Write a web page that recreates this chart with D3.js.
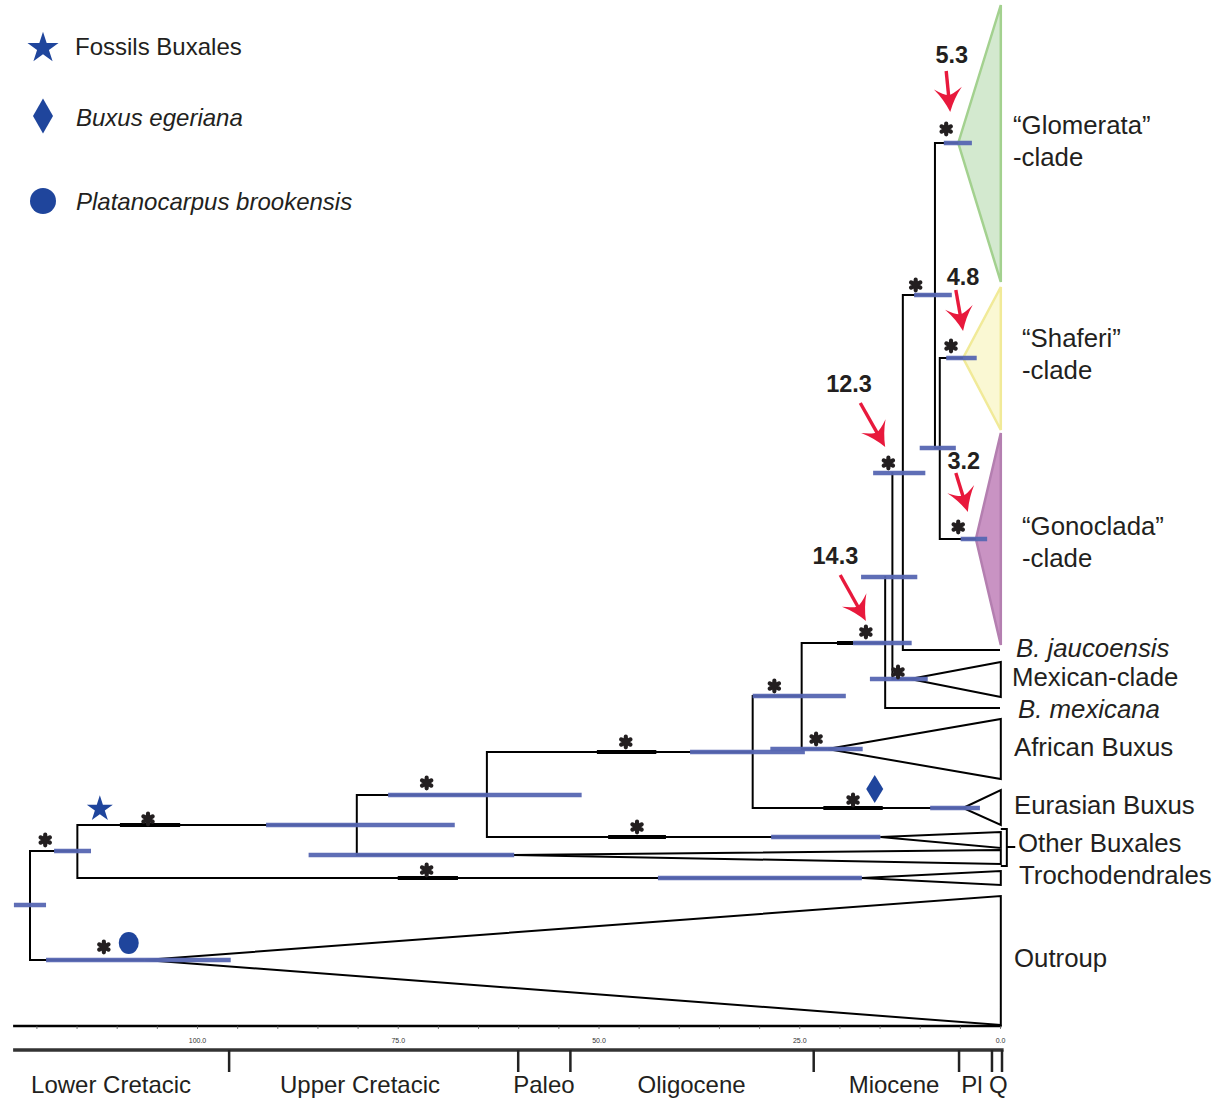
<!DOCTYPE html>
<html>
<head>
<meta charset="utf-8">
<script src="https://cdn.jsdelivr.net/npm/d3@7"></script>
<style>
  body { margin: 0; background: #fff; }
  svg { display: block; font-family: "Liberation Sans", Arial, sans-serif; }
</style>
</head>
<body>
<div id="chart"></div>
<script>
// ---- Data (ages in Ma, y in layout rows) ----

// horizontal branches: [olderAge, youngerAge, y]
const branches = [
    [120.8, 114.9, 851], [120.8, 106.5, 960],
    [114.9, 80.1, 825], [114.9, 17.2, 878],
    [80.1, 63.9, 795], [80.1, 60.6, 855],
    [63.9, 30.8, 752], [63.9, 14.9, 837],
    [30.8, 24.7, 696], [30.8, 4.6, 808],
    [24.7, 14.3, 643], [24.7, 21.5, 749],
    [14.3, 0, 708], [13.4, 11.2, 679],
    [12.1, 0, 650], [12.1, 8.1, 295],
    [8.1, 5.2, 143], [8.1, 7.5, 448],
    [7.5, 4.6, 358], [7.5, 3.0, 539]
];

// vertical connectors: [age, yTop, yBottom]
const connectors = [
    [120.8, 851, 960], [114.9, 825, 878], [80.1, 795, 855],
    [63.9, 752, 837], [30.8, 696, 808], [24.7, 643, 749],
    [14.3, 577, 708], [13.4, 473, 679], [12.1, 295, 650],
    [8.1, 143, 448], [7.5, 358, 539]
];

// thicker black branch pieces
const thickPieces = [
    [109.6, 102.1, 825], [50.2, 42.8, 752], [48.8, 41.6, 837],
    [75.0, 67.5, 878], [22.0, 14.6, 808], [20.3, 18.3, 643]
];

// collapsed clades: apexAge, apexY, topY, bottomY
const cladeNames = ["Glomerata", "Shaferi", "Gonoclada", "Mexican", "African", "Eurasian", "Other1", "Other2", "Trocho", "Outgroup"];
const cladeApexAge = [5.2, 4.6, 3.0, 11.2, 21.5, 4.6, 14.9, 60.6, 17.2, 106.5];
const cladeApexY = [143, 358, 539, 679, 749, 808, 837, 855, 878, 960];
const cladeTopY = [5, 287, 433, 662, 719, 790, 832, 850, 871, 896];
const cladeBottomY = [282, 430, 645, 697, 779, 825, 848, 864, 885, 1025];
const cladeFill = ["#d3e9cf", "#faf8d3", "#c993c3", "none", "none", "none", "none", "none", "none", "none"];
const cladeStroke = ["#a3d18f", "#f1ea98", "#b47fb0", "#000", "#000", "#000", "#000", "#000", "#000", "#000"];

// 95% HPD bars: [olderAge, youngerAge, y]
const hpdBars = [
    [7.0, 3.5, 143], [10.7, 6.0, 295], [6.7, 2.9, 358], [10.0, 5.5, 448],
    [15.8, 9.3, 473], [4.9, 1.6, 539], [17.3, 10.3, 577], [18.3, 11.0, 643],
    [16.2, 9.0, 679], [30.8, 19.2, 696], [28.6, 17.1, 749], [38.6, 24.3, 752],
    [8.7, 2.5, 808], [76.2, 52.1, 795], [91.4, 67.9, 825], [28.5, 14.9, 837],
    [86.1, 60.5, 855], [42.6, 17.2, 878], [117.8, 113.2, 851],
    [122.8, 118.8, 905], [118.8, 95.8, 960]
];

// support asterisks: [age, y]
const supportMarks = [
    [6.7, 129], [10.5, 285], [6.1, 346], [13.9, 463], [5.2, 527], [16.7, 632],
    [12.7, 672], [28.1, 686], [22.9, 739], [18.3, 800], [46.6, 742], [45.2, 827],
    [71.4, 783], [106.1, 819], [71.4, 870], [118.9, 840], [111.6, 947]
];

// fossil calibrations: [age, y]
const fossilStar = [112.1, 808];
const fossilDiamond = [15.6, 789];
const fossilCircle = [108.5, 943];

// age annotations
const noteLabels = ["5.3", "4.8", "12.3", "3.2", "14.3"];
const noteLabelAge = [6.0, 4.6, 18.8, 4.5, 20.5];
const noteLabelY = [55, 277, 384, 461, 556];
const noteArrows = [ // [fromAge, fromY, toAge, toY]
    [6.7, 71, 6.2, 112], [5.5, 290, 4.6, 331], [17.4, 403, 14.3, 447],
    [5.5, 473, 4.0, 512], [19.9, 575, 16.7, 621]
];

// tip labels
const tipNames = ["\u201CGlomerata\u201D", "-clade", "\u201CShaferi\u201D", "-clade", "\u201CGonoclada\u201D", "-clade",
    "B. jaucoensis", "Mexican-clade", "B. mexicana", "African Buxus", "Eurasian Buxus",
    "Other Buxales", "Trochodendrales", "Outroup"];
const tipY = [134, 166, 347, 379, 535, 567, 657, 686, 718, 756, 814, 852, 884, 967];
const tipDx = [13, 13, 22, 22, 22, 22, 16, 12, 18, 14, 14, 18, 19, 14];
const tipItalic = [false, false, false, false, false, false, true, false, true, false, false, false, false, false];

// time axis
const axisTicks = d3.range(0, 125, 5);
const epochBounds = [96.0, 60.0, 53.5, 23.2, 5.1, 1.0, -0.25];
const epochNames = ["Lower Cretacic", "Upper Cretacic", "Paleo", "Oligocene", "Miocene", "Pl", "Q"];
const epochMid = [110.7, 79.7, 56.8, 38.4, 13.2, 3.5, 0.2];

// legend
const legendNames = ["Fossils Buxales", "Buxus egeriana", "Platanocarpus brookensis"];
const legendY = [47, 118, 202];

// ---- Drawing ----
const W = 1216, H = 1101;
const ink = "#231f20", blue = "#1f459c", red = "#e8193c";

const x = d3.scaleLinear().domain([0, 100]).range([1000, 197]);
const y = d3.scaleLinear().domain([0, H]).range([0, H]);

const svg = d3.select("#chart").append("svg")
    .attr("width", W)
    .attr("height", H);

// collapsed clade triangles
const clades = cladeNames.map((n, i) => ({
    n, apexAge: cladeApexAge[i], apexY: cladeApexY[i], top: cladeTopY[i],
    bottom: cladeBottomY[i], fill: cladeFill[i], stroke: cladeStroke[i]
}));
svg.append("g").selectAll("path")
    .data(clades)
    .enter()
    .append("path")
    .attr("d", d => `M${x(d.apexAge)},${y(d.apexY)}L${x(-0.1)},${y(d.top)}L${x(-0.1)},${y(d.bottom)}Z`)
    .attr("fill", d => d.fill)
    .attr("stroke", d => d.stroke)
    .attr("stroke-width", d => d.fill === "none" ? 2 : 2.5)
    .attr("stroke-linejoin", "miter");

// tree branches
const tree = svg.append("g").attr("stroke", "#000").attr("fill", "none");
tree.selectAll(".h")
    .data(branches)
    .enter()
    .append("line")
    .attr("x1", d => x(d[0])).attr("x2", d => x(d[1]))
    .attr("y1", d => y(d[2])).attr("y2", d => y(d[2]))
    .attr("stroke-width", 2);
tree.selectAll(".v")
    .data(connectors)
    .enter()
    .append("line")
    .attr("x1", d => x(d[0])).attr("x2", d => x(d[0]))
    .attr("y1", d => y(d[1]) - 1).attr("y2", d => y(d[2]) + 1)
    .attr("stroke-width", 2);
tree.selectAll(".t")
    .data(thickPieces)
    .enter()
    .append("line")
    .attr("x1", d => x(d[0])).attr("x2", d => x(d[1]))
    .attr("y1", d => y(d[2])).attr("y2", d => y(d[2]))
    .attr("stroke-width", 4);

// Other Buxales bracket
svg.append("path")
    .attr("d", `M${x(-0.1)},${y(829)}H${x(-0.85)}V${y(866)}H${x(-0.1)}M${x(-0.85)},${y(847)}H${x(-1.9)}`)
    .attr("fill", "none")
    .attr("stroke", "#000")
    .attr("stroke-width", 2);

// HPD bars
svg.append("g").selectAll("line")
    .data(hpdBars)
    .enter()
    .append("line")
    .attr("x1", d => x(d[0])).attr("x2", d => x(d[1]))
    .attr("y1", d => y(d[2])).attr("y2", d => y(d[2]))
    .attr("stroke", "#5767b3")
    .attr("stroke-width", 4.5)
    .attr("opacity", 0.95);

// support asterisks
const aster = d3.symbol().type(d3.symbolAsterisk).size(80);
const supportG = svg.append("g");
supportG.selectAll("path")
    .data(supportMarks)
    .enter()
    .append("path")
    .attr("d", aster)
    .attr("transform", d => `translate(${x(d[0])},${y(d[1])})`)
    .attr("stroke", ink)
    .attr("stroke-width", 4.2)
    .attr("stroke-linecap", "round")
    .attr("fill", "none");
supportG.selectAll("circle")
    .data(supportMarks)
    .enter()
    .append("circle")
    .attr("cx", d => x(d[0])).attr("cy", d => y(d[1]))
    .attr("r", 3.5)
    .attr("fill", ink);

// fossil symbols
const starPath = s => d3.symbol().type(d3.symbolStar).size(s)();
const diamondPath = (w, h) => `M0,${-h / 2}L${w / 2},0L0,${h / 2}L${-w / 2},0Z`;

svg.append("path")
    .attr("d", starPath(210))
    .attr("transform", `translate(${x(fossilStar[0])},${y(fossilStar[1]) + 1})`)
    .attr("fill", blue);
svg.append("path")
    .attr("d", diamondPath(17, 28))
    .attr("transform", `translate(${x(fossilDiamond[0])},${y(fossilDiamond[1])})`)
    .attr("fill", blue);
svg.append("ellipse")
    .attr("cx", x(fossilCircle[0])).attr("cy", y(fossilCircle[1]))
    .attr("rx", 10).attr("ry", 11)
    .attr("fill", blue);

// red arrows with age notes
const notes = svg.append("g");
noteArrows.forEach(a => {
    const x1 = x(a[0]), y1 = y(a[1]), x2 = x(a[2]), y2 = y(a[3]);
    const ang = Math.atan2(y2 - y1, x2 - x1);
    const len = Math.hypot(x2 - x1, y2 - y1);
    const g = notes.append("g")
        .attr("transform", `translate(${x1},${y1}) rotate(${ang * 180 / Math.PI})`);
    g.append("line")
        .attr("x1", 0).attr("y1", 0)
        .attr("x2", len - 14).attr("y2", 0)
        .attr("stroke", red)
        .attr("stroke-width", 3.4);
    g.append("path")
        .attr("d", `M${len},0 Q${len - 13},-5 ${len - 24},-14 Q${len - 17},-4 ${len - 17},0 Q${len - 17},4 ${len - 24},14 Q${len - 13},5 ${len},0Z`)
        .attr("fill", red);
});
notes.selectAll("text")
    .data(noteLabels)
    .enter()
    .append("text")
    .attr("x", (d, i) => x(noteLabelAge[i]))
    .attr("y", (d, i) => y(noteLabelY[i]) + 8)
    .attr("text-anchor", "middle")
    .attr("font-size", 23.5)
    .attr("font-weight", "bold")
    .attr("fill", ink)
    .text(d => d);

// tip labels
svg.append("g").selectAll("text")
    .data(tipNames)
    .enter()
    .append("text")
    .attr("x", (d, i) => x(0) + tipDx[i])
    .attr("y", (d, i) => y(tipY[i]))
    .attr("font-size", 25.8)
    .attr("font-style", (d, i) => tipItalic[i] ? "italic" : "normal")
    .attr("fill", ink)
    .text(d => d);

// time axis
const axisY = 1026;
const axis = d3.axisBottom(x)
    .tickValues(axisTicks)
    .tickSize(3)
    .tickSizeOuter(0)
    .tickPadding(9)
    .tickFormat(d => d % 25 === 0 ? d3.format(".1f")(d) : "");
const axG = svg.append("g")
    .attr("transform", `translate(0,${axisY})`)
    .call(axis);
axG.select(".domain")
    .attr("d", `M${x(122.9)},0H${x(-0.2)}`)
    .attr("stroke", "#000")
    .attr("stroke-width", 2.5);
axG.selectAll(".tick line").attr("stroke", "#555").attr("stroke-width", 0.8);
axG.selectAll(".tick text")
    .attr("font-size", 7)
    .attr("fill", "#333")
    .attr("font-family", "\"Liberation Sans\", Arial, sans-serif");

// geological time scale
const geoY = 1050;
svg.append("line")
    .attr("x1", x(122.9)).attr("x2", x(-0.45))
    .attr("y1", geoY).attr("y2", geoY)
    .attr("stroke", "#333")
    .attr("stroke-width", 3.5);
svg.append("g").selectAll("line")
    .data(epochBounds)
    .enter()
    .append("line")
    .attr("x1", d => x(d)).attr("x2", d => x(d))
    .attr("y1", geoY).attr("y2", geoY + 22)
    .attr("stroke", "#222")
    .attr("stroke-width", 2.5);
svg.append("g").selectAll("text")
    .data(epochNames)
    .enter()
    .append("text")
    .attr("x", (d, i) => x(epochMid[i]))
    .attr("y", 1093)
    .attr("text-anchor", "middle")
    .attr("font-size", 24)
    .attr("fill", ink)
    .text(d => d);

// legend
const leg = svg.append("g");
leg.append("path")
    .attr("d", starPath(300))
    .attr("transform", `translate(43,${legendY[0] + 1})`)
    .attr("fill", blue);
leg.append("path")
    .attr("d", diamondPath(20, 35))
    .attr("transform", `translate(43,${legendY[1] - 2})`)
    .attr("fill", blue);
leg.append("circle")
    .attr("cx", 43).attr("cy", legendY[2] - 1)
    .attr("r", 13)
    .attr("fill", blue);
leg.selectAll("text")
    .data(legendNames)
    .enter()
    .append("text")
    .attr("x", (d, i) => i === 0 ? 75 : 76)
    .attr("y", (d, i) => legendY[i] + 8)
    .attr("font-size", 24)
    .attr("font-style", (d, i) => i === 0 ? "normal" : "italic")
    .attr("fill", ink)
    .text(d => d);
</script>
</body>
</html>
